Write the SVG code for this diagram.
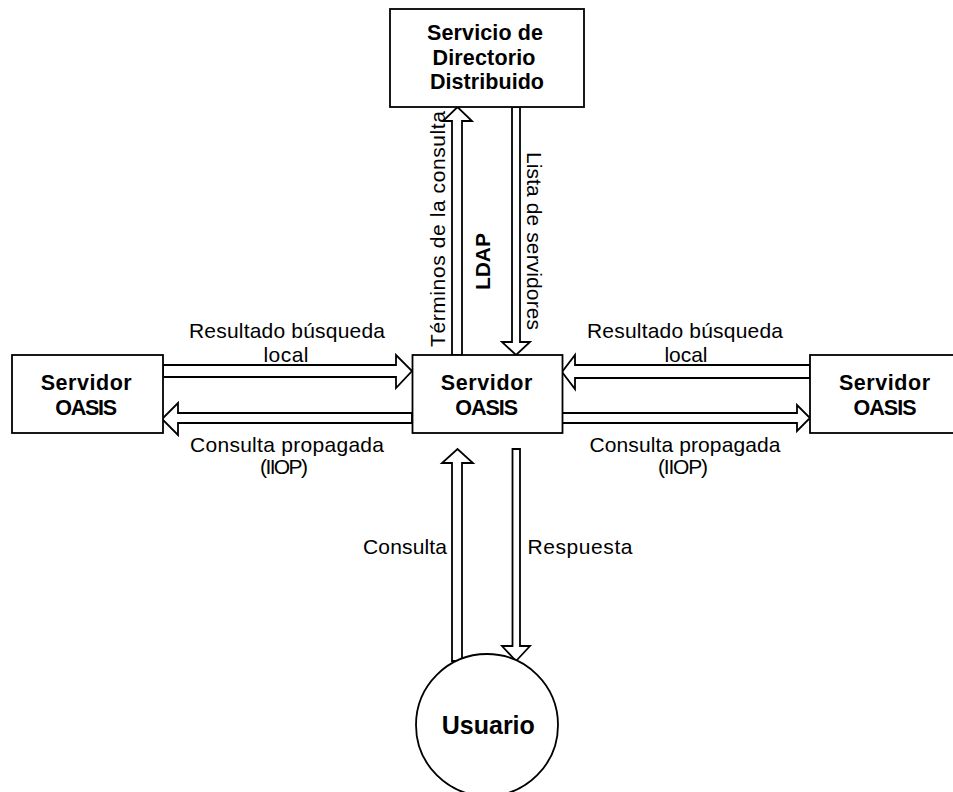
<svg xmlns="http://www.w3.org/2000/svg" width="953" height="792" viewBox="0 0 953 792">
<style>
.box{fill:#fff;stroke:#000;stroke-width:1.8}
.arr{fill:#fff;stroke:#000;stroke-width:1.8;stroke-linejoin:miter}
.nb{font-family:"Liberation Sans",Arial,sans-serif;font-weight:bold;font-size:21.5px;text-anchor:middle;fill:#000}
.lb{font-family:"Liberation Sans",Arial,sans-serif;font-size:21px;text-anchor:middle;fill:#000}
.big{font-size:25px}
</style>
<rect width="953" height="792" fill="#fff"/>
<g id="connectors">
<polygon class="arr" points="163,365 396,365 396,355 412,371 396,388 396,377 163,377"/>
<polygon class="arr" points="412,413 178,413 178,403 162,419 178,435 178,423 412,423"/>
<polygon class="arr" points="810,365 575,365 575,355 562,372 575,389 575,378 810,378"/>
<polygon class="arr" points="562,413 797,413 797,405 810,418 797,431 797,423 562,423"/>
<polygon class="arr" points="452,355 452,121 443,121 457.5,107 472,121 462,121 462,355"/>
<polygon class="arr" points="512,107 520,107 520,342 530,342 516,355 502,342 512,342"/>
<polygon class="arr" points="452,661 452,463 442,463 457.5,449 473,463 462,463 462,661"/>
<polygon class="arr" points="512.5,449 520,449 520,646 530,646 516,661 502,646 512.5,646"/>
<text class="lb" x="287" y="338" textLength="196" lengthAdjust="spacing">Resultado búsqueda</text>
<text class="lb" x="286" y="362" textLength="45" lengthAdjust="spacing">local</text>
<text class="lb" x="685" y="338" textLength="196" lengthAdjust="spacing">Resultado búsqueda</text>
<text class="lb" x="686" y="362" textLength="43" lengthAdjust="spacing">local</text>
<text class="lb" x="287" y="451.5" textLength="194" lengthAdjust="spacing">Consulta propagada</text>
<text class="lb" x="284" y="474" textLength="48" lengthAdjust="spacing">(IIOP)</text>
<text class="lb" x="685" y="451.5" textLength="191" lengthAdjust="spacing">Consulta propagada</text>
<text class="lb" x="683" y="474" textLength="50" lengthAdjust="spacing">(IIOP)</text>
<text class="lb" x="405" y="554" textLength="84" lengthAdjust="spacing">Consulta</text>
<text class="lb" x="580" y="554" textLength="105" lengthAdjust="spacing">Respuesta</text>
<text class="lb" transform="translate(445,229) rotate(-90)" x="0" y="0" textLength="236" lengthAdjust="spacing">Términos de la consulta</text>
<text class="lb" transform="translate(490,261.5) rotate(-90)" x="0" y="0" font-weight="bold" textLength="57" lengthAdjust="spacing">LDAP</text>
<text class="lb" transform="translate(527,241) rotate(90)" x="0" y="0" textLength="178" lengthAdjust="spacing">Lista de servidores</text>
</g>
<g id="node-directorio">
<rect class="box" x="390" y="9" width="194" height="98"/>
<text class="nb" x="485" y="40" textLength="116" lengthAdjust="spacing">Servicio de</text>
<text class="nb" x="484" y="65" textLength="103" lengthAdjust="spacing">Directorio</text>
<text class="nb" x="487" y="89" textLength="114" lengthAdjust="spacing">Distribuido</text>
</g>
<g id="node-servidor-centro">
<rect class="box" x="412.5" y="355" width="150" height="78"/>
<text class="nb" x="486.5" y="390" textLength="91.6" lengthAdjust="spacing">Servidor</text>
<text class="nb" x="486.7" y="414.5" textLength="63" lengthAdjust="spacing">OASIS</text>
</g>
<g id="node-servidor-izq">
<rect class="box" x="12" y="355" width="151" height="78"/>
<text class="nb" x="86.2" y="390" textLength="91" lengthAdjust="spacing">Servidor</text>
<text class="nb" x="86.2" y="414.5" textLength="62" lengthAdjust="spacing">OASIS</text>
</g>
<g id="node-servidor-der">
<rect class="box" x="810" y="355" width="150" height="78"/>
<text class="nb" x="884.5" y="390" textLength="91" lengthAdjust="spacing">Servidor</text>
<text class="nb" x="885" y="414.5" textLength="63" lengthAdjust="spacing">OASIS</text>
</g>
<g id="node-usuario">
<circle class="box" cx="487" cy="725" r="71"/>
<text class="nb big" x="488.3" y="733.5">Usuario</text>
</g>
</svg>
